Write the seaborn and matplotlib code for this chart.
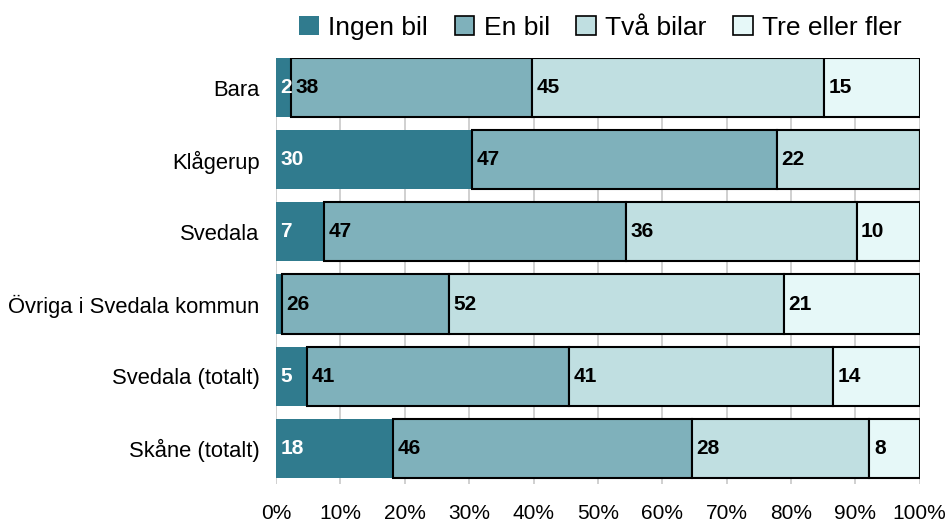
import numpy as np
import pandas as pd
import seaborn as sns
import matplotlib
matplotlib.use("Agg")
import matplotlib.pyplot as plt
from matplotlib.patches import Patch

omraden = ["Bara", "Klågerup", "Svedala", "Övriga i Svedala kommun",
           "Svedala (totalt)", "Skåne (totalt)"]
serier = ["Ingen bil", "En bil", "Två bilar", "Tre eller fler"]
ingen_bil = [2.3, 30.4, 7.5, 0.9, 4.8, 18.2]
en_bil = [37.5, 47.4, 46.8, 26.0, 40.7, 46.4]
tva_bilar = [45.4, 22.2, 35.9, 52.0, 41.0, 27.6]
tre_eller_fler = [14.8, 0.0, 9.8, 21.1, 13.5, 7.8]
etiketter = [
    ["2", "38", "45", "15"],
    ["30", "47", "22", ""],
    ["7", "47", "36", "10"],
    ["", "26", "52", "21"],
    ["5", "41", "41", "14"],
    ["18", "46", "28", "8"],
]

farger = ["#307b8e", "#7fb1bb", "#c0dfe1", "#e6f8f8"]
textfarger = ["white", "black", "black", "black"]

df = pd.DataFrame({"omrade": omraden, "Ingen bil": ingen_bil, "En bil": en_bil,
                   "Två bilar": tva_bilar, "Tre eller fler": tre_eller_fler})

sns.set_style("white")
plt.rcParams["font.family"] = ["Liberation Sans", "DejaVu Sans"]
plt.rcParams["text.color"] = "black"
plt.rcParams["xtick.color"] = "black"
plt.rcParams["ytick.color"] = "black"

fig, ax = plt.subplots(figsize=(9.52, 5.22), dpi=100)
fig.subplots_adjust(left=0.29, right=0.966, top=0.889, bottom=0.072)

start = np.zeros(len(omraden))
for i, s in enumerate(serier):
    vals = df[s].values
    sns.barplot(data=df, y="omrade", x=s, color=farger[i], orient="y",
                left=start.copy(), width=0.82, saturation=1,
                edgecolor="none" if i == 0 else "black",
                linewidth=0 if i == 0 else 1.5, ax=ax, zorder=2)
    for j, v in enumerate(vals):
        lab = etiketter[j][i]
        if lab:
            ax.text(start[j] + 0.7, j, lab, ha="left", va="center",
                    color=textfarger[i], fontsize=15, fontweight="bold", zorder=3)
    start = start + vals

ax.set_xlim(0, 100)
ax.set_ylim(5.5, -0.41)
ax.set_xticks(range(0, 101, 10))
ax.set_xticklabels([f"{t}%" for t in range(0, 101, 10)], fontsize=15)
ax.tick_params(axis="y", labelsize=15.8, length=0, pad=12)
ax.tick_params(axis="x", length=0, pad=14)
ax.set_xlabel("")
ax.set_ylabel("")
ax.xaxis.grid(True, color="#c8c8c8", linewidth=1.2, zorder=0)
ax.set_axisbelow(True)
for sp in ax.spines.values():
    sp.set_visible(False)

handles = [Patch(facecolor=farger[i], edgecolor="none" if i == 0 else "black",
                 linewidth=1.2) for i in range(4)]
fig.legend(handles, serier, loc="upper right", bbox_to_anchor=(0.972, 1.015),
           ncol=4, frameon=False, fontsize=19, handlelength=0.75, handleheight=0.75,
           handletextpad=0.35, columnspacing=1.0)

fig.savefig("out.png", dpi=100)
